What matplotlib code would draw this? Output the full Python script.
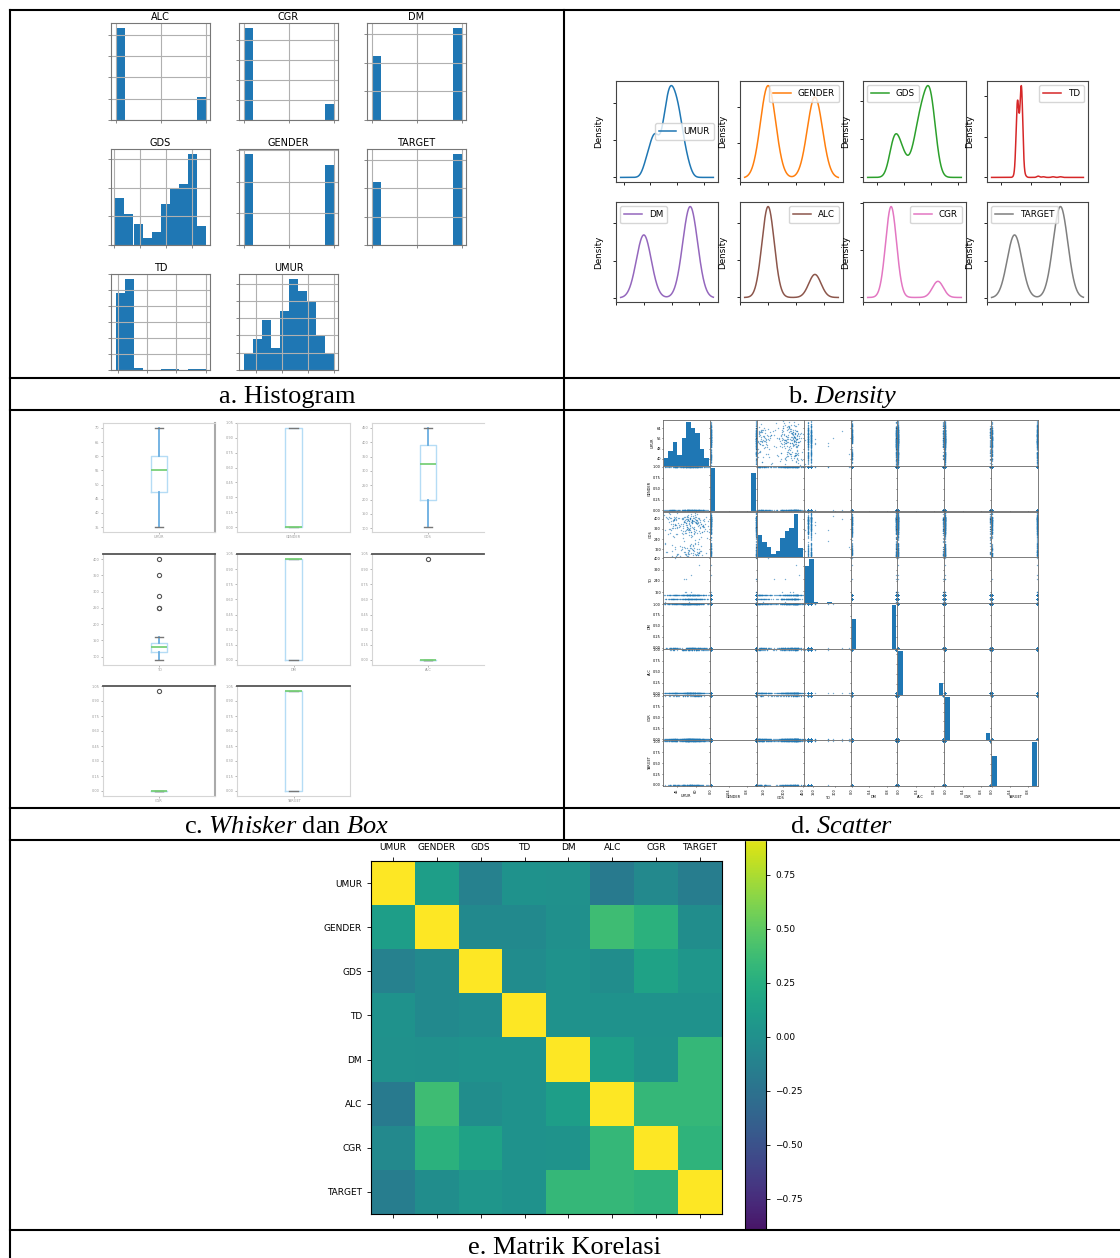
import numpy as np
import matplotlib.pyplot as plt
from matplotlib.lines import Line2D
from matplotlib.patches import Rectangle
from matplotlib.ticker import MaxNLocator, MultipleLocator

plt.rcParams['font.family'] = ['DejaVu Sans']
plt.rcParams['mathtext.fontset'] = 'custom'
plt.rcParams['mathtext.rm'] = 'Liberation Serif'
plt.rcParams['mathtext.it'] = 'Liberation Serif:italic'

W, H = 1120, 1258
fig = plt.figure(figsize=(W / 100, H / 100), dpi=100)


def px_axes(x0, y0, x1, y1):
    # axes from a pixel box, origin top-left
    return fig.add_axes([x0 / W, 1 - y1 / H, (x1 - x0) / W, (y1 - y0) / H])


cols = ["UMUR", "GENDER", "GDS", "TD", "DM", "ALC", "CGR", "TARGET"]
colors = plt.cm.tab10.colors

# ---- data (272 rows) ----
umur_range = (35, 70)
umur_counts = [10, 18, 29, 13, 34, 53, 46, 40, 20, 9]
gds_range = (104, 450)
gds_counts = [33, 22, 15, 5, 9, 29, 39, 43, 64, 13]
td_values = [90, 110, 136, 160, 250, 285, 350, 400]
td_counts = [2, 119, 143, 3, 2, 1, 1, 1]
gender_counts = [145, 127]
dm_counts = [111, 161]
alc_counts = [217, 55]
cgr_counts = [231, 41]
target_counts = [111, 161]

# box plots: whisker low, q1, median, q3, whisker high
umur_box = [35, 47.5, 55, 60, 70]
gender_box = [0, 0, 0, 1, 1]
gds_box = [104, 197, 325, 391, 450]
td_box = [90, 114, 130, 143, 160]
dm_box = [0, 0, 1, 1, 1]
alc_box = [0, 0, 0, 0, 0]
cgr_box = [0, 0, 0, 0, 0]
target_box = [0, 0, 1, 1, 1]
td_fliers = [250, 250, 285, 350, 400]
alc_fliers = [1]
cgr_fliers = [1]

corr = [
    [1.00, 0.12, -0.12, 0.02, 0.01, -0.18, -0.06, -0.15],
    [0.12, 1.00, -0.05, -0.05, 0.00, 0.38, 0.28, -0.02],
    [-0.12, -0.05, 1.00, -0.03, 0.02, -0.02, 0.15, 0.05],
    [0.02, -0.05, -0.03, 1.00, 0.02, 0.02, 0.02, 0.02],
    [0.01, 0.00, 0.02, 0.02, 1.00, 0.12, 0.03, 0.33],
    [-0.18, 0.38, -0.02, 0.02, 0.12, 1.00, 0.33, 0.33],
    [-0.06, 0.28, 0.15, 0.02, 0.03, 0.33, 1.00, 0.30],
    [-0.15, -0.02, 0.05, 0.02, 0.33, 0.33, 0.30, 1.00],
]
cbar_ticks = [-0.75, -0.5, -0.25, 0, 0.25, 0.5, 0.75]


def binned(counts, rng):
    edges = np.linspace(rng[0], rng[1], len(counts) + 1)
    return edges[:-1], counts, rng


def spread(counts, rng):
    # samples laid out evenly inside each histogram bin
    edges = np.linspace(rng[0], rng[1], len(counts) + 1)
    out = [a + (b - a) * (np.arange(c) + 0.5) / max(c, 1)
           for c, a, b in zip(counts, edges[:-1], edges[1:])]
    return np.concatenate(out)


hist_src = {
    "UMUR": binned(umur_counts, umur_range),
    "GENDER": ([0, 1], gender_counts, (0, 1)),
    "GDS": binned(gds_counts, gds_range),
    "TD": (td_values, td_counts, (min(td_values), max(td_values))),
    "DM": ([0, 1], dm_counts, (0, 1)),
    "ALC": ([0, 1], alc_counts, (0, 1)),
    "CGR": ([0, 1], cgr_counts, (0, 1)),
    "TARGET": ([0, 1], target_counts, (0, 1)),
}
data = {
    "UMUR": spread(umur_counts, umur_range),
    "GENDER": np.repeat([0.0, 1.0], gender_counts),
    "GDS": spread(gds_counts, gds_range),
    "TD": np.repeat(td_values, td_counts).astype(float),
    "DM": np.repeat([0.0, 1.0], dm_counts),
    "ALC": np.repeat([0.0, 1.0], alc_counts),
    "CGR": np.repeat([0.0, 1.0], cgr_counts),
    "TARGET": np.repeat([0.0, 1.0], target_counts),
}
box_stats = {"UMUR": umur_box, "GENDER": gender_box, "GDS": gds_box, "TD": td_box,
             "DM": dm_box, "ALC": alc_box, "CGR": cgr_box, "TARGET": target_box}
box_fliers = {"TD": td_fliers, "ALC": alc_fliers, "CGR": cgr_fliers}


def kde(s, grid):
    n = len(s)
    bw = s.std(ddof=1) * n ** (-0.2)
    z = (grid[:, None] - s[None, :]) / bw
    return np.exp(-0.5 * z ** 2).sum(axis=1) / (n * bw * np.sqrt(2 * np.pi))


###a. histogram
hist_order = ["ALC", "CGR", "DM", "GDS", "GENDER", "TARGET", "TD", "UMUR"]
hist_xstep = {"UMUR": 10, "GDS": 100, "TD": 100}
hist_ystep = {"ALC": 50, "CGR": 50, "DM": 50, "GDS": 20, "GENDER": 50,
              "TARGET": 50, "TD": 25, "UMUR": 10}
a_cols = [(111, 210), (239, 338), (367, 466)]
a_rows = [(23, 120), (149, 245), (274, 370)]
for k, name in enumerate(hist_order):
    (x0, x1), (y0, y1) = a_cols[k % 3], a_rows[k // 3]
    ax = px_axes(x0, y0, x1, y1)
    v, w, rng = hist_src[name]
    ax.hist(v, bins=10, range=rng, weights=w, color='#1f77b4')
    ax.grid(True, color='#b0b0b0', lw=0.8)
    ax.set_title(name, fontsize=7, pad=2)
    ax.xaxis.set_major_locator(MultipleLocator(hist_xstep.get(name, 0.5)))
    ax.yaxis.set_major_locator(MultipleLocator(hist_ystep[name]))
    ax.tick_params(labelleft=False, labelbottom=False, length=2, width=0.6, color='#777')
    for s in ax.spines.values():
        s.set_color('#777')

###b. density
legend_loc = {"UMUR": "center right", "GENDER": "upper right", "GDS": "upper left",
              "TD": "upper right", "DM": "upper left", "ALC": "upper right",
              "CGR": "upper right", "TARGET": "upper left"}
b_cols = [(616, 718), (740, 843), (863, 966), (987, 1088)]
b_rows = [(81, 182), (202, 302)]
for k, name in enumerate(cols):
    (x0, x1), (y0, y1) = b_cols[k % 4], b_rows[k // 4]
    ax = px_axes(x0, y0, x1, y1)
    s = data[name]
    lo, hi = s.min(), s.max()
    grid = np.linspace(lo - 0.5 * (hi - lo), hi + 0.5 * (hi - lo), 1000)
    ax.plot(grid, kde(s, grid), color=colors[k], lw=1.1, label=name)
    ax.legend(loc=legend_loc[name], fontsize=6.3, borderpad=0.45, handlelength=2)
    ax.set_ylabel('Density', fontsize=6.3, labelpad=7)
    ax.xaxis.set_major_locator(MaxNLocator(4))
    ax.yaxis.set_major_locator(MaxNLocator(3))
    ax.tick_params(labelleft=False, labelbottom=False, length=2, width=0.6)
    for sp in ax.spines.values():
        sp.set_color('#444')

###c. whisker & box
c_cols = [(103, 215), (237, 350), (372, 484)]
c_rows = [(423, 532), (554, 665), (686, 796)]
for k, name in enumerate(cols):
    (x0, x1), (y0, y1) = c_cols[k % 3], c_rows[k // 3]
    ax = px_axes(x0, y0, x1, y1)
    wl, q1, med, q3, wh = box_stats[name]
    st = dict(whislo=wl, q1=q1, med=med, q3=q3, whishi=wh,
              fliers=box_fliers.get(name, []), label=name)
    ax.bxp([st], positions=[1], widths=0.15,
           boxprops=dict(color='#b5dcf5', lw=1),
           whiskerprops=dict(color='#6aaee0', lw=1.3),
           capprops=dict(color='#777', lw=1),
           medianprops=dict(color='#79d079', lw=1.3, zorder=4),
           flierprops=dict(marker='o', markersize=3, markerfacecolor='none',
                           markeredgecolor='#555', markeredgewidth=0.8))
    ax.set_xlim(0.5, 1.5)
    ax.yaxis.set_major_locator(MaxNLocator(8))
    ax.tick_params(labelsize=2.5, length=1.5, width=0.5, colors='#999', pad=1)
    for sp in ax.spines.values():
        sp.set_color('#d5d5d5')
        sp.set_linewidth(0.8)
    if k >= 3:
        ax.spines['top'].set_color('#555')
        ax.spines['top'].set_linewidth(1.3)
    if k % 3 == 0:
        ax.spines['right'].set_color('#aaa')
        ax.spines['right'].set_linewidth(1.5)
    if k % 3 == 2:
        ax.spines['right'].set_visible(False)

###d. scatter matrix
N = len(data["UMUR"])
# fixed row order per column (the picture gives only the marginals)
order_key = {"UMUR": 12.9898, "GENDER": 78.233, "GDS": 37.719, "TD": 4.1414,
             "DM": 93.989, "ALC": 67.345, "CGR": 25.131, "TARGET": 51.877}
scat = {}
for n in cols:
    key = (np.sin((np.arange(N) + 1) * order_key[n]) * 43758.5453) % 1.0
    scat[n] = data[n][np.argsort(key)]
bounds = {}
for n in cols:
    lo, hi = data[n].min(), data[n].max()
    bounds[n] = (lo - 0.025 * (hi - lo), hi + 0.025 * (hi - lo))

d_x0, d_y0, d_x1, d_y1 = 663, 420, 1038, 786
cw, ch = (d_x1 - d_x0) / 8, (d_y1 - d_y0) / 8
axes_d = {}
for i, yname in enumerate(cols):
    for j, xname in enumerate(cols):
        ax = px_axes(d_x0 + j * cw, d_y0 + i * ch, d_x0 + (j + 1) * cw, d_y0 + (i + 1) * ch)
        axes_d[i, j] = ax
        if i == j:
            v, w, rng = hist_src[xname]
            ax.hist(v, bins=10, range=rng, weights=w, color='#1f77b4')
        else:
            ax.scatter(scat[xname], scat[yname], s=1.0, color='#1f77b4', alpha=0.6, lw=0)
            ax.set_ylim(bounds[yname])
        ax.set_xlim(bounds[xname])
        ax.xaxis.set_major_locator(MaxNLocator(3))
        ax.yaxis.set_major_locator(MaxNLocator(5))
        ax.tick_params(labelsize=2.5, length=1, width=0.4, pad=0.5)
        ax.tick_params(axis='x', labelrotation=90)
        if j == 0:
            ax.set_ylabel(yname, fontsize=2.5, labelpad=1)
        else:
            ax.tick_params(labelleft=False)
        if i == 7:
            ax.set_xlabel(xname, fontsize=2.5, labelpad=1)
        else:
            ax.tick_params(labelbottom=False)
        for sp in ax.spines.values():
            sp.set_color('#666')
            sp.set_linewidth(0.6)

# top-left diagonal shows the UMUR value scale like pandas does
ax00 = axes_d[0, 0]
lo, hi = bounds["UMUR"]
locs = [t for t in MaxNLocator(5).tick_values(lo, hi) if lo <= t <= hi]
h0, h1 = ax00.get_ylim()
ax00.set_yticks([(t - lo) / (hi - lo) * (h1 - h0) + h0 for t in locs])
ax00.set_yticklabels([f"{t:g}" for t in locs])
ax00.set_ylim(h0, h1)

###e. correlation matrix
ax = px_axes(371, 861, 722, 1214)
im = ax.matshow(corr, cmap='viridis', vmin=-1, vmax=1, aspect='auto')
ax.set_xticks(range(len(cols)))
ax.set_xticklabels(cols, fontsize=6.5)
ax.set_yticks(range(len(cols)))
ax.set_yticklabels(cols, fontsize=6.5)
ax.tick_params(length=3, width=0.6)
cax = px_axes(745, 821, 766, 1253)
cb = fig.colorbar(im, cax=cax)
cb.set_ticks(cbar_ticks)
cb.ax.tick_params(labelsize=6.5, length=3, width=0.6)

###table: caption rows, lines, captions
for y0, y1 in [(378, 410), (808, 840), (1230, 1258)]:
    fig.add_artist(Rectangle((10 / W, 1 - y1 / H), 1110 / W, (y1 - y0) / H,
                             transform=fig.transFigure, color='white', zorder=5))

def hline(y, x0=10, x1=1120):
    fig.add_artist(Line2D([x0 / W, x1 / W], [1 - y / H, 1 - y / H], color='black', lw=1.5, zorder=6))

def vline(x, y0, y1):
    fig.add_artist(Line2D([x / W, x / W], [1 - y0 / H, 1 - y1 / H], color='black', lw=1.5, zorder=6))

for y in [10, 378, 410, 808, 840, 1230]:
    hline(y)
vline(10, 10, 1258)
vline(564, 10, 840)

cap = dict(ha='center', va='baseline', family='Liberation Serif', fontsize=19, zorder=7)
fig.text(287 / W, 1 - 403 / H, 'a. Histogram', **cap)
fig.text(842 / W, 1 - 403 / H, r'b. $\mathit{Density}$', **cap)
fig.text(287 / W, 1 - 833 / H, r'c. $\mathit{Whisker}$ dan $\mathit{Box}$', **cap)
fig.text(842 / W, 1 - 833 / H, r'd. $\mathit{Scatter}$', **cap)
fig.text(565 / W, 1 - 1254 / H, 'e. Matrik Korelasi', **cap)

fig.savefig('out.png', dpi=100)
